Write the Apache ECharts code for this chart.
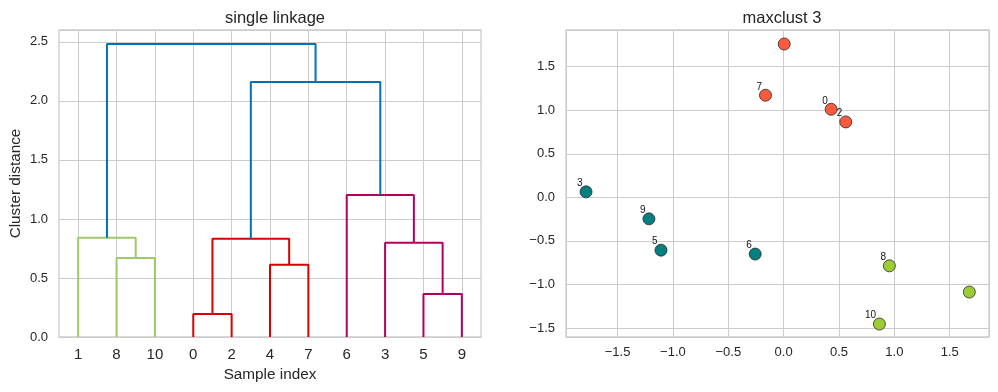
<!DOCTYPE html>
<html>
<head>
<meta charset="utf-8">
<script src="https://cdn.jsdelivr.net/npm/echarts@6/dist/echarts.min.js"></script>
<style>html,body{margin:0;padding:0;background:#fff;}#c{width:998px;height:392px;}</style>
</head>
<body>
<div id="c"></div>
<script>
// ---- Dendrogram data ----
const leafOrder = ['1','8','10','0','2','4','7','6','3','5','9'];
// node ids: 0..10 leaves (by label), 11.. clusters in link order
const linkLeft   = [0, 5, 4, 8, 3, 11, 1, 6, 16, 17];
const linkRight  = [2, 9, 7, 10, 12, 13, 14, 15, 18, 19];
const linkHeights = [0.195, 0.364, 0.612, 0.669, 0.799, 0.832, 0.841, 1.202, 2.159, 2.481];
const linkGroups = ['c1','c2','c1','c3','c2','c1','c3','c2','above','above'];

// ---- Scatter data ----
const pointIds = [0, 1, 2, 3, 4, 5, 6, 7, 8, 9, 10];
const pointX = [0.429, 1.677, 0.561, -1.785, 0.005, -1.108, -0.257, -0.164, 0.955, -1.217, 0.865];
const pointY = [1.011, -1.087, 0.866, 0.063, 1.760, -0.606, -0.651, 1.172, -0.786, -0.247, -1.454];
const pointCluster = [1, 3, 1, 2, 1, 2, 2, 1, 3, 2, 3];
const labeledPoints = [0, 2, 3, 5, 6, 7, 8, 9, 10];

const linkColor = {c1: '#d90000', c2: '#b3005f', c3: '#9dc96b', above: '#0072b2'};
const clusterColor = {1: '#fb5a3c', 2: '#008080', 3: '#9acd32'};

const FONT = '"Liberation Sans", Arial, sans-serif';
const TXT = '#262626';

// compute node positions (scipy-style coords: leaves at 5,15,...)
const nodeX = {}, nodeH = {};
leafOrder.forEach((lab, i) => { nodeX[+lab] = 5 + 10 * i; nodeH[+lab] = 0; });
const linkSeries = [];
for (let k = 0; k < linkLeft.length; k++) {
  const a = linkLeft[k], b = linkRight[k], h = linkHeights[k];
  const id = 11 + k;
  nodeX[id] = (nodeX[a] + nodeX[b]) / 2;
  nodeH[id] = h;
  linkSeries.push({
    type: 'line', xAxisIndex: 1, yAxisIndex: 0,
    data: [[nodeX[a], nodeH[a]], [nodeX[a], h], [nodeX[b], h], [nodeX[b], nodeH[b]]],
    showSymbol: false, symbol: 'none', silent: true, animation: false,
    lineStyle: {color: linkColor[linkGroups[k]], width: 2},
    z: 3
  });
}

function fmt(v) {
  if (Math.abs(v * 2 - Math.round(v * 2)) > 1e-6) return '';
  return v.toFixed(1).replace('-', '\u2212');
}

const scatterSeries = [1, 2, 3].map(c => ({
  type: 'scatter', xAxisIndex: 2, yAxisIndex: 1,
  symbolSize: 12, animation: false,
  itemStyle: {color: clusterColor[c], borderColor: '#2a2a2a', borderWidth: 0.8, opacity: 1},
  data: pointIds.filter(i => pointCluster[i] === c).map(i => ({
    value: [pointX[i], pointY[i]],
    name: String(i),
    label: {
      show: labeledPoints.indexOf(i) >= 0,
      formatter: String(i),
      position: [3, 3], align: 'right', verticalAlign: 'bottom',
      fontSize: 10, color: '#111', fontFamily: FONT
    }
  })),
  z: 4
}));

const gridLine = {show: true, lineStyle: {color: '#cccccc', width: 1}};
const chart = echarts.init(document.getElementById('c'), null, {renderer: 'canvas'});
chart.setOption({
  backgroundColor: '#ffffff',
  animation: false,
  textStyle: {fontFamily: FONT},
  title: [
    {text: 'single linkage', left: 270, top: 5, textAlign: 'center',
     textStyle: {fontSize: 16.5, fontWeight: 'normal', color: TXT, fontFamily: FONT}},
    {text: 'maxclust 3', left: 777, top: 5, textAlign: 'center',
     textStyle: {fontSize: 16.5, fontWeight: 'normal', color: TXT, fontFamily: FONT}}
  ],
  grid: [
    {left: 59, top: 30, width: 422, height: 307, show: true, borderColor: '#cccccc', borderWidth: 1.3, backgroundColor: 'transparent', containLabel: false},
    {left: 566, top: 30, width: 423, height: 307, show: true, borderColor: '#cccccc', borderWidth: 1.3, backgroundColor: 'transparent', containLabel: false}
  ],
  xAxis: [
    {type: 'category', gridIndex: 0, data: leafOrder, boundaryGap: true,
     axisLine: {show: false}, axisTick: {show: false, alignWithLabel: true},
     splitLine: {show: true, alignWithLabel: true, lineStyle: {color: '#cccccc', width: 1}},
     axisLabel: {fontSize: 15, color: TXT, margin: 10, fontFamily: FONT},
     name: 'Sample index', nameLocation: 'middle', nameGap: 29,
     nameTextStyle: {fontSize: 15.3, color: TXT, fontFamily: FONT}},
    {type: 'value', gridIndex: 0, min: 0, max: 110, show: false,
     splitLine: {show: false}},
    {type: 'value', gridIndex: 1, min: -1.966, max: 1.855, minInterval: 0.5, maxInterval: 0.5,
     axisLine: {show: false}, axisTick: {show: false}, splitLine: gridLine,
     axisLabel: {fontSize: 13, color: TXT, margin: 9, formatter: fmt, fontFamily: FONT,
                 showMinLabel: false, showMaxLabel: false}}
  ],
  yAxis: [
    {type: 'value', gridIndex: 0, min: 0, max: 2.6, interval: 0.5,
     axisLine: {show: false}, axisTick: {show: false}, splitLine: gridLine,
     axisLabel: {fontSize: 13, color: TXT, margin: 11, formatter: fmt, fontFamily: FONT},
     name: 'Cluster distance', nameLocation: 'middle', nameGap: 36,
     nameTextStyle: {fontSize: 15.3, color: TXT, fontFamily: FONT}},
    {type: 'value', gridIndex: 1, min: -1.603, max: 1.921, minInterval: 0.5, maxInterval: 0.5,
     axisLine: {show: false}, axisTick: {show: false}, splitLine: gridLine,
     axisLabel: {fontSize: 13, color: TXT, margin: 11, formatter: fmt, fontFamily: FONT,
                 showMinLabel: false, showMaxLabel: false}}
  ],
  series: linkSeries.concat(scatterSeries)
});
</script>
</body>
</html>
